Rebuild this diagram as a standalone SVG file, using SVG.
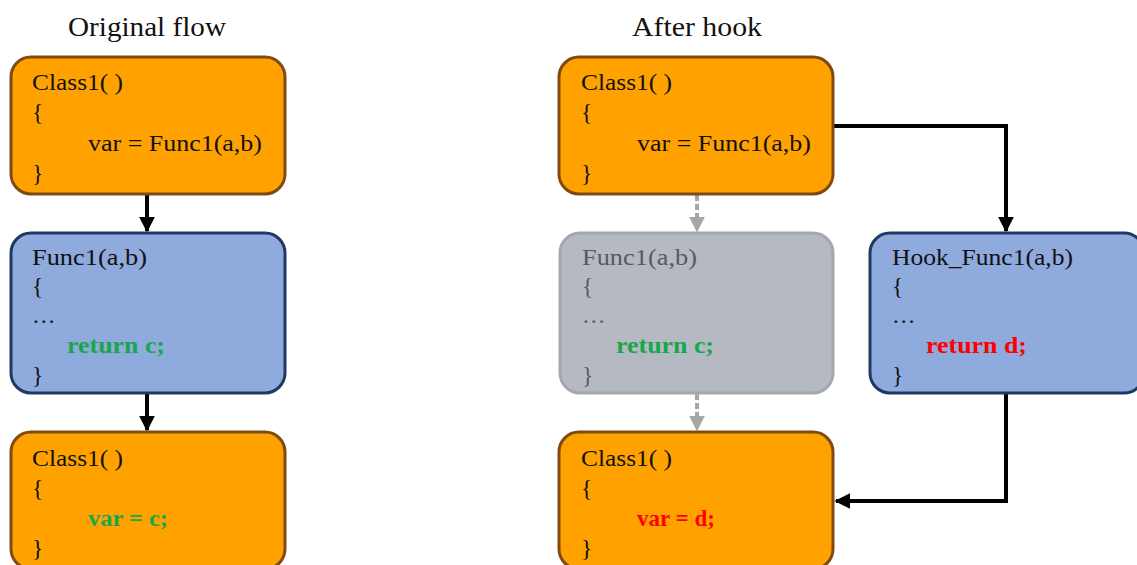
<svg xmlns="http://www.w3.org/2000/svg" width="1137" height="565" viewBox="0 0 1137 565">
<style>
text{font-family:"Liberation Serif","DejaVu Serif",serif;font-size:23.5px;fill:#111}
.title{font-size:27px}
.orange{fill:#FFA200;stroke:#7F4A14;stroke-width:3}
.blue{fill:#8FAADC;stroke:#203864;stroke-width:3}
.gray{fill:#B5B9C2;stroke:#A3A7AF;stroke-width:3}
.gt{fill:#5A5A5A}
.green{fill:#1AA64B;font-weight:bold}
.red{fill:#FF0000;font-weight:bold}
.conn{fill:none;stroke:#000;stroke-width:4}
.dconn{fill:none;stroke:#A6A6A6;stroke-width:4;stroke-dasharray:6 3}
</style>
<defs>
<marker id="ah" markerWidth="4" markerHeight="4" refX="3.6" refY="2" orient="auto" markerUnits="strokeWidth">
<path d="M0,0 L4,2 L0,4 Z" fill="#000"/>
</marker>
<marker id="ahg" markerWidth="4" markerHeight="4" refX="3.6" refY="2" orient="auto" markerUnits="strokeWidth">
<path d="M0,0 L4,2 L0,4 Z" fill="#A6A6A6"/>
</marker>
</defs>
<text class="title" x="147" y="36" text-anchor="middle" textLength="158" lengthAdjust="spacingAndGlyphs">Original flow</text>
<text class="title" x="697" y="36" text-anchor="middle" textLength="130" lengthAdjust="spacingAndGlyphs">After hook</text>
<g id="connectors">
<path class="conn" d="M147,195 V231" marker-end="url(#ah)"/>
<path class="conn" d="M147,394 V430" marker-end="url(#ah)"/>
<path class="dconn" d="M697,195 V231" marker-end="url(#ahg)"/>
<path class="dconn" d="M697,394 V430" marker-end="url(#ahg)"/>
<path class="conn" d="M834,126 H1006 V231" marker-end="url(#ah)"/>
<path class="conn" d="M1006,394 V501 H836" marker-end="url(#ah)"/>
</g>
<g id="orig-class1-top">
<rect class="orange" x="11" y="57" width="274" height="137" rx="20"/>
<text x="32" y="90" textLength="91" lengthAdjust="spacingAndGlyphs">Class1( )</text>
<text x="32" y="120">{</text>
<text x="88" y="151" textLength="174" lengthAdjust="spacingAndGlyphs">var = Func1(a,b)</text>
<text x="32" y="181">}</text>
</g>
<g id="orig-func1">
<rect class="blue" x="11" y="233" width="274" height="160" rx="20"/>
<text x="32" y="265" textLength="115" lengthAdjust="spacingAndGlyphs">Func1(a,b)</text>
<text x="32" y="294">{</text>
<text x="32" y="323">…</text>
<text class="green" x="67" y="353" textLength="98" lengthAdjust="spacingAndGlyphs">return c;</text>
<text x="32" y="383">}</text>
</g>
<g id="orig-class1-bottom">
<rect class="orange" x="11" y="432" width="274" height="137" rx="20"/>
<text x="32" y="466" textLength="91" lengthAdjust="spacingAndGlyphs">Class1( )</text>
<text x="32" y="496">{</text>
<text class="green" x="88" y="526" textLength="80" lengthAdjust="spacingAndGlyphs">var = c;</text>
<text x="32" y="556">}</text>
</g>
<g id="hook-class1-top">
<rect class="orange" x="559" y="57" width="274" height="137" rx="20"/>
<text x="581" y="90" textLength="91" lengthAdjust="spacingAndGlyphs">Class1( )</text>
<text x="581" y="120">{</text>
<text x="637" y="151" textLength="174" lengthAdjust="spacingAndGlyphs">var = Func1(a,b)</text>
<text x="581" y="181">}</text>
</g>
<g id="hook-func1-gray">
<rect class="gray" x="560" y="233" width="273" height="160" rx="20"/>
<text class="gt" x="582" y="265" textLength="115" lengthAdjust="spacingAndGlyphs">Func1(a,b)</text>
<text class="gt" x="582" y="294">{</text>
<text class="gt" x="582" y="323">…</text>
<text class="green" x="616" y="353" textLength="98" lengthAdjust="spacingAndGlyphs">return c;</text>
<text class="gt" x="582" y="383">}</text>
</g>
<g id="hook-func">
<rect class="blue" x="870" y="233" width="274" height="160" rx="20"/>
<text x="892" y="265" textLength="181" lengthAdjust="spacingAndGlyphs">Hook_Func1(a,b)</text>
<text x="892" y="294">{</text>
<text x="892" y="323">…</text>
<text class="red" x="926" y="353" textLength="101" lengthAdjust="spacingAndGlyphs">return d;</text>
<text x="892" y="383">}</text>
</g>
<g id="hook-class1-bottom">
<rect class="orange" x="559" y="432" width="274" height="137" rx="20"/>
<text x="581" y="466" textLength="91" lengthAdjust="spacingAndGlyphs">Class1( )</text>
<text x="581" y="496">{</text>
<text class="red" x="637" y="526" textLength="78" lengthAdjust="spacingAndGlyphs">var = d;</text>
<text x="581" y="556">}</text>
</g>
</svg>
